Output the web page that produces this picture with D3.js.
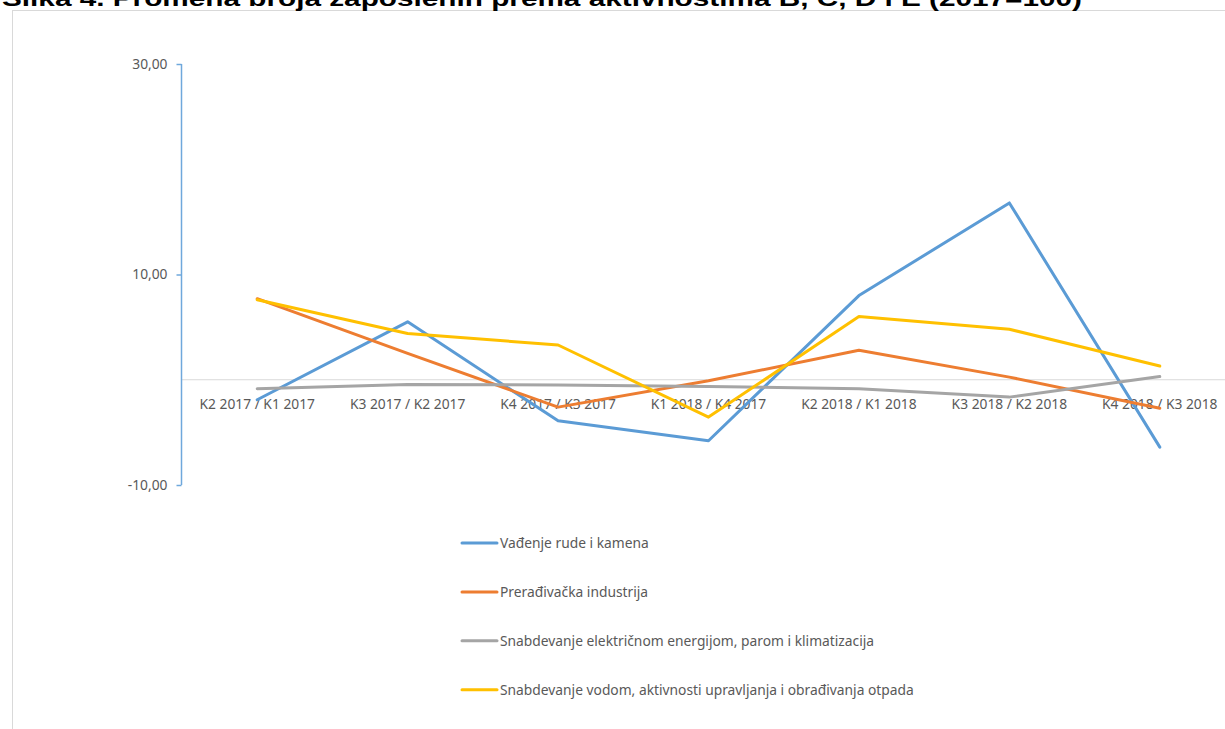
<!DOCTYPE html>
<html>
<head>
<meta charset="utf-8">
<script src="https://cdn.jsdelivr.net/npm/d3@7"></script>
<style>
  body { margin: 0; background: #fff; overflow: hidden; }
  svg { display: block; }
</style>
</head>
<body>
<svg id="chart"></svg>
<script>
const title = 'Slika  4. Promena broja zaposlenih prema aktivnostima B, C, D i E  (2017=100)';

const categories = [
  'K2 2017 / K1 2017', 'K3 2017 / K2 2017', 'K4 2017 / K3 2017', 'K1 2018 / K4 2017',
  'K2 2018 / K1 2018', 'K3 2018 / K2 2018', 'K4 2018 / K3 2018'
];

const seriesNames = [
  'Vađenje rude i kamena',
  'Prerađivačka industrija',
  'Snabdevanje električnom energijom, parom i klimatizacija',
  'Snabdevanje vodom, aktivnosti upravljanja i obrađivanja otpada'
];

const vadjenje = [-1.9, 5.5, -3.9, -5.8, 8.0, 16.8, -6.4];
const preradjivacka = [7.7, 2.5, -2.6, -0.1, 2.8, 0.25, -2.7];
const struja = [-0.85, -0.45, -0.5, -0.65, -0.85, -1.65, 0.3];
const voda = [7.6, 4.4, 3.3, -3.55, 6.0, 4.8, 1.3];

const yTicks = [-10, 10, 30];
const colors = ['#5B9BD5', '#ED7D31', '#A5A5A5', '#FFC000'];

const width = 1225;
const height = 729;
const font = '"Noto Sans", sans-serif';
const fontSize = '13.8px';

const svg = d3.select('#chart').attr('width', width).attr('height', height);

// chart frame
svg.append('rect')
  .attr('x', 12.5).attr('y', 10.5)
  .attr('width', 1400).attr('height', 900)
  .attr('fill', 'none')
  .attr('stroke', '#d9d9d9');

// title (clipped at top in the original)
svg.append('text')
  .attr('x', 2)
  .attr('y', 6)
  .attr('textLength', 1080)
  .attr('lengthAdjust', 'spacingAndGlyphs')
  .style('font-family', '"Liberation Sans", Arial, sans-serif')
  .style('font-weight', 'bold')
  .style('font-size', '22px')
  .style('fill', '#000')
  .text(title);

const x = d3.scalePoint()
  .domain(categories)
  .range([182, 1235])
  .padding(0.5);

const y = d3.scaleLinear()
  .domain([-10, 30])
  .range([485, 64]);

// zero line
svg.append('line')
  .attr('x1', 182).attr('x2', width)
  .attr('y1', y(0)).attr('y2', y(0))
  .attr('stroke', '#d9d9d9')
  .attr('stroke-width', 1);

// y axis
const yAxis = svg.append('g')
  .attr('transform', 'translate(181.5,0)')
  .call(d3.axisLeft(y)
    .tickValues(yTicks)
    .tickSize(5)
    .tickSizeOuter(0)
    .tickFormat(d => d3.format('.2f')(d).replace('.', ',').replace('\u2212', '-')));
yAxis.select('.domain').attr('stroke', '#6FA8DC').attr('stroke-width', 1.5)
  .attr('d', `M0,${y(30)}V${y(-10)}`);
yAxis.selectAll('.tick line').attr('stroke', '#6FA8DC').attr('stroke-width', 1.5);
yAxis.selectAll('.tick text')
  .attr('x', -14)
  .style('font-family', font)
  .style('font-size', fontSize)
  .style('fill', '#595959');

// category labels
svg.append('g').selectAll('text')
  .data(categories)
  .enter()
  .append('text')
  .attr('x', d => x(d))
  .attr('y', 409)
  .style('text-anchor', 'middle')
  .style('font-family', font)
  .style('font-size', fontSize)
  .style('fill', '#595959')
  .text(d => d);

// lines
const allSeries = [vadjenje, preradjivacka, struja, voda];
const line = d3.line()
  .x((d, i) => x(categories[i]))
  .y(d => y(d));

svg.append('g').selectAll('path')
  .data(allSeries)
  .enter()
  .append('path')
  .attr('d', d => line(d))
  .attr('fill', 'none')
  .attr('stroke', (d, i) => colors[i])
  .attr('stroke-width', 3)
  .attr('stroke-linejoin', 'round')
  .attr('stroke-linecap', 'round');

// legend
const legend = svg.append('g').selectAll('g')
  .data(seriesNames)
  .enter()
  .append('g')
  .attr('transform', (d, i) => `translate(462,${543 + i * 48.9})`);

legend.append('line')
  .attr('x1', 0).attr('x2', 35)
  .attr('stroke', (d, i) => colors[i])
  .attr('stroke-width', 3)
  .attr('stroke-linecap', 'round');

legend.append('text')
  .attr('x', 38)
  .attr('dy', '0.35em')
  .style('font-family', font)
  .style('font-size', fontSize)
  .style('fill', '#595959')
  .text(d => d);
</script>
</body>
</html>
